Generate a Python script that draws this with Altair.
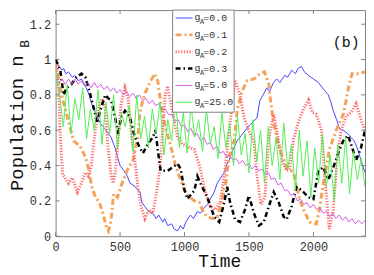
import altair as alt
import pandas as pd

FONT = "Liberation Mono"

series_names = ["gA=0.0", "gA=0.1", "gA=0.2", "gA=0.3", "gA=5.0", "gA=25.0"]
legend_labels = ["=0.0", "=0.1", "=0.2", "=0.3", "=5.0", "=25.0"]
x_ticks = [0, 500, 1000, 1500, 2000]
y_ticks = [0, 0.2, 0.4, 0.6, 0.8, 1.0, 1.2]

# gA = 0.0 (blue)
blue_pts = [(0, 1.00), (25, 0.96), (50, 0.94), (62, 0.95), (80, 0.92), (100, 0.93), (130, 0.90), (150, 0.91),
            (177, 0.88), (200, 0.89), (238, 0.84), (260, 0.80), (292, 0.72), (310, 0.70), (346, 0.64), (380, 0.61),
            (410, 0.58), (431, 0.56), (450, 0.52), (462, 0.50), (480, 0.45), (500, 0.40), (530, 0.37), (550, 0.35),
            (577, 0.30), (600, 0.29), (630, 0.27), (654, 0.25), (670, 0.19), (690, 0.17), (720, 0.14), (754, 0.13),
            (780, 0.10), (800, 0.12), (831, 0.08), (846, 0.10), (870, 0.06), (900, 0.07), (920, 0.04), (946, 0.03),
            (970, 0.06), (990, 0.04), (1010, 0.08), (1046, 0.12), (1070, 0.10), (1100, 0.14), (1123, 0.13),
            (1150, 0.16), (1180, 0.18), (1200, 0.21), (1230, 0.25), (1254, 0.30), (1280, 0.33), (1308, 0.36),
            (1330, 0.41), (1346, 0.43), (1370, 0.48), (1408, 0.54), (1440, 0.57), (1485, 0.61), (1520, 0.64),
            (1562, 0.67), (1585, 0.77), (1610, 0.80), (1638, 0.84), (1660, 0.82), (1690, 0.87), (1715, 0.89),
            (1740, 0.87), (1777, 0.91), (1800, 0.90), (1831, 0.94), (1860, 0.92), (1880, 0.95), (1908, 0.96),
            (1930, 0.93), (1962, 0.91), (2000, 0.89), (2038, 0.87), (2070, 0.84), (2115, 0.80), (2135, 0.76),
            (2154, 0.71), (2180, 0.66), (2200, 0.61), (2230, 0.60), (2269, 0.58), (2290, 0.56), (2315, 0.54),
            (2340, 0.50), (2369, 0.43), (2400, 0.36)]

# gA = 0.1 (orange)
orange_pts = [(0, 1.0), (30, 0.85), (60, 0.76), (100, 0.65), (140, 0.54), (190, 0.51), (230, 0.45), (260, 0.37),
              (280, 0.28), (310, 0.22), (340, 0.19), (370, 0.12), (395, 0.05), (410, 0.03), (430, 0.09),
              (450, 0.24), (480, 0.22), (520, 0.31), (560, 0.38), (600, 0.43), (638, 0.56), (654, 0.70),
              (677, 0.77), (700, 0.82), (738, 0.88), (769, 0.92), (792, 0.88), (815, 0.76), (850, 0.62),
              (890, 0.52), (930, 0.40), (970, 0.32), (1000, 0.26), (1040, 0.22), (1077, 0.20), (1115, 0.19),
              (1150, 0.13), (1177, 0.11), (1215, 0.10), (1254, 0.11), (1290, 0.20), (1320, 0.30), (1346, 0.45),
              (1385, 0.54), (1408, 0.71), (1446, 0.82), (1485, 0.88), (1538, 0.89), (1585, 0.92), (1620, 0.93),
              (1654, 0.86), (1670, 0.75), (1692, 0.64), (1715, 0.56), (1740, 0.49), (1792, 0.39), (1846, 0.36),
              (1870, 0.28), (1892, 0.21), (1923, 0.15), (1970, 0.08), (2023, 0.07), (2046, 0.15), (2077, 0.30),
              (2100, 0.39), (2123, 0.49), (2177, 0.60), (2231, 0.69), (2254, 0.77), (2277, 0.86), (2300, 0.92),
              (2350, 0.92), (2400, 0.93)]

# gA = 0.2 (red, dotted)
red_pts = [(0, 1.0), (23, 0.85), (38, 0.55), (54, 0.35), (100, 0.30), (131, 0.33), (169, 0.25), (200, 0.30),
           (231, 0.36), (254, 0.34), (277, 0.40), (300, 0.55), (331, 0.72), (362, 0.78), (385, 0.72),
           (408, 0.50), (431, 0.34), (446, 0.30), (462, 0.36), (485, 0.55), (508, 0.75), (538, 0.84),
           (562, 0.78), (592, 0.55), (615, 0.43), (638, 0.28), (662, 0.17), (692, 0.10), (723, 0.15),
           (754, 0.13), (777, 0.22), (808, 0.37), (831, 0.60), (850, 0.80), (869, 0.85), (892, 0.76),
           (923, 0.64), (946, 0.56), (985, 0.52), (1046, 0.50), (1077, 0.49), (1123, 0.38), (1160, 0.25),
           (1200, 0.17), (1240, 0.15), (1277, 0.19), (1310, 0.35), (1346, 0.60), (1392, 0.88), (1431, 0.80),
           (1462, 0.67), (1508, 0.58), (1538, 0.54), (1562, 0.35), (1592, 0.18), (1623, 0.22), (1654, 0.55),
           (1692, 0.69), (1715, 0.60), (1754, 0.43), (1792, 0.37), (1815, 0.38), (1846, 0.55), (1885, 0.65),
           (1923, 0.72), (1962, 0.77), (1992, 0.70), (2023, 0.69), (2062, 0.60), (2092, 0.30), (2123, 0.04),
           (2154, 0.15), (2185, 0.45), (2215, 0.60), (2254, 0.68), (2292, 0.70), (2331, 0.75), (2369, 0.66),
           (2400, 0.60)]

# gA = 0.3 (black, dash-dot)
black_pts = [(0, 1.0), (20, 0.97), (38, 0.93), (62, 0.80), (85, 0.84), (123, 0.86), (162, 0.90), (200, 0.92),
             (231, 0.90), (270, 0.80), (308, 0.69), (320, 0.64), (346, 0.71), (385, 0.80), (408, 0.78),
             (431, 0.77), (462, 0.67), (485, 0.58), (508, 0.67), (538, 0.71), (577, 0.67), (615, 0.56),
             (654, 0.50), (677, 0.47), (715, 0.52), (754, 0.56), (775, 0.60), (792, 0.49), (815, 0.37),
             (869, 0.37), (946, 0.41), (970, 0.38), (1000, 0.26), (1023, 0.21), (1077, 0.26), (1100, 0.34),
             (1123, 0.30), (1177, 0.22), (1200, 0.17), (1231, 0.11), (1269, 0.08), (1308, 0.19), (1331, 0.28),
             (1354, 0.19), (1392, 0.095), (1431, 0.08), (1469, 0.15), (1500, 0.23), (1538, 0.13), (1577, 0.06),
             (1615, 0.08), (1654, 0.17), (1692, 0.25), (1731, 0.19), (1769, 0.11), (1792, 0.095), (1831, 0.17),
             (1869, 0.28), (1908, 0.26), (1962, 0.22), (2000, 0.21), (2038, 0.37), (2077, 0.39), (2115, 0.32),
             (2154, 0.39), (2192, 0.47), (2231, 0.54), (2269, 0.57), (2292, 0.52), (2331, 0.43), (2369, 0.50),
             (2400, 0.60)]

# gA = 5.0 (magenta), sampled every 25 time units
magenta_t = list(range(0, 2401, 25))
magenta_v = [0.89, 0.87, 0.89, 0.86, 0.89, 0.86, 0.89, 0.86, 0.88, 0.85, 0.87, 0.84, 0.87, 0.84, 0.86, 0.83,
             0.85, 0.82, 0.84, 0.81, 0.83, 0.80, 0.82, 0.79, 0.81, 0.78, 0.80, 0.77, 0.78, 0.75, 0.77, 0.74,
             0.75, 0.72, 0.72, 0.69, 0.69, 0.65, 0.66, 0.62, 0.63, 0.59, 0.61, 0.57, 0.58, 0.54, 0.56, 0.52,
             0.53, 0.49, 0.51, 0.47, 0.48, 0.45, 0.46, 0.43, 0.44, 0.41, 0.43, 0.40, 0.41, 0.38, 0.40, 0.37,
             0.38, 0.35, 0.36, 0.32, 0.33, 0.29, 0.30, 0.26, 0.26, 0.23, 0.24, 0.20, 0.21, 0.18, 0.19, 0.16,
             0.18, 0.15, 0.16, 0.13, 0.14, 0.11, 0.13, 0.10, 0.12, 0.09, 0.11, 0.08, 0.10, 0.07, 0.09, 0.07,
             0.09]

# gA = 25.0 (green), sampled every 30 time units
green_t = list(range(0, 2401, 30))
green_v = [0.95, 0.80, 0.62, 0.86, 0.58, 0.78, 0.66, 0.84, 0.55, 0.72,
           0.60, 0.83, 0.52, 0.76, 0.58, 0.80, 0.50, 0.70, 0.62, 0.74,
           0.48, 0.80, 0.55, 0.68, 0.50, 0.72, 0.58, 0.76, 0.46, 0.66,
           0.54, 0.78, 0.50, 0.70, 0.47, 0.74, 0.56, 0.66, 0.48, 0.72,
           0.52, 0.62, 0.44, 0.70, 0.50, 0.64, 0.40, 0.68, 0.46, 0.58,
           0.36, 0.66, 0.42, 0.60, 0.30, 0.62, 0.40, 0.56, 0.32, 0.64,
           0.38, 0.52, 0.26, 0.60, 0.34, 0.54, 0.22, 0.50, 0.30, 0.58,
           0.28, 0.46, 0.20, 0.52, 0.30, 0.56, 0.24, 0.48, 0.32, 0.44,
           0.28]

all_pts = [
    blue_pts,
    orange_pts,
    red_pts,
    black_pts,
    list(zip(magenta_t, magenta_v)),
    list(zip(green_t, green_v)),
]

styles = [
    dict(color="#4646ff", strokeWidth=1.0),
    dict(color="#f5a258", strokeWidth=3.0, strokeDash=[6, 3, 2, 3]),
    dict(color="#ff6a6a", strokeWidth=3.0, strokeDash=[1.2, 1.6]),
    dict(color="#000000", strokeWidth=2.5, strokeDash=[5, 3, 1.5, 3]),
    dict(color="#d060e0", strokeWidth=1.0),
    dict(color="#55ee55", strokeWidth=1.0),
]

W, H = 312, 228
x_scale = alt.Scale(domain=[0, 2400], nice=False, zero=False)
y_scale = alt.Scale(domain=[0, 1.28], nice=False, zero=False)
x_axis = alt.Axis(values=x_ticks, format="d", title="Time", titleFont=FONT, titleFontSize=18,
                  titleFontWeight="normal", titleColor="#111111", titleX=165, titlePadding=1,
                  labelFont=FONT, labelFontSize=12, labelColor="#333333", labelPadding=5, labelFlush=False,
                  ticks=False, domain=False, grid=False)
y_axis = alt.Axis(values=y_ticks, format="~g", title=None, labelFont=FONT, labelFontSize=12,
                  labelColor="#333333", labelPadding=5, labelFlush=False, ticks=False, domain=False, grid=False)

layers = []
for name, pts, st in zip(series_names, all_pts, styles):
    df = pd.DataFrame(pts, columns=["t", "v"])
    df["series"] = name
    layers.append(
        alt.Chart(df).mark_line(clip=True, **st).encode(
            x=alt.X("t:Q", scale=x_scale, axis=x_axis),
            y=alt.Y("v:Q", scale=y_scale, axis=y_axis),
        )
    )

# inward tick marks on all four sides of the frame
xt = pd.DataFrame({"t": x_ticks})
yt = pd.DataFrame({"v": y_ticks})
tick_style = dict(color="#808080", strokeWidth=1)
for y0, y1 in [(H, H - 4), (0, 4)]:
    layers.append(alt.Chart(xt).mark_rule(**tick_style).encode(
        x=alt.X("t:Q", scale=x_scale, axis=x_axis), y=alt.value(y0), y2=alt.value(y1)))
for x0, x1 in [(0, 4), (W, W - 4)]:
    layers.append(alt.Chart(yt).mark_rule(**tick_style).encode(
        y=alt.Y("v:Q", scale=y_scale, axis=y_axis), x=alt.value(x0), x2=alt.value(x1)))

one = pd.DataFrame({"k": [0]})

# legend box
layers.append(
    alt.Chart(one).mark_rect(fill="white", stroke="#808080", strokeWidth=1).encode(
        x=alt.value(118), x2=alt.value(180), y=alt.value(0), y2=alt.value(103)
    )
)
row_y = [8, 25, 42, 59, 76, 93]
for ry, lab, st in zip(row_y, legend_labels, styles):
    layers.append(alt.Chart(one).mark_rule(**st).encode(x=alt.value(121), x2=alt.value(138), y=alt.value(ry)))
    layers.append(alt.Chart(one).mark_text(text="g", font=FONT, fontSize=10, align="left", baseline="middle",
                                           color="#333333").encode(x=alt.value(140), y=alt.value(ry - 1)))
    layers.append(alt.Chart(one).mark_text(text="A", font=FONT, fontSize=7, align="left", baseline="middle",
                                           color="#333333").encode(x=alt.value(145.5), y=alt.value(ry + 4)))
    layers.append(alt.Chart(one).mark_text(text=lab, font=FONT, fontSize=10, align="left", baseline="middle",
                                           color="#333333").encode(x=alt.value(149), y=alt.value(ry)))

# panel label
layers.append(alt.Chart(one).mark_text(text="(b)", font=FONT, fontSize=15, align="center", baseline="middle",
                                       color="#111111").encode(x=alt.value(293), y=alt.value(32)))
# y title with subscript
layers.append(alt.Chart(one).mark_text(text="Population n", font=FONT, fontSize=19, angle=270, align="center",
                                       baseline="middle", color="#111111").encode(x=alt.value(-39), y=alt.value(114)))
layers.append(alt.Chart(one).mark_text(text="B", font=FONT, fontSize=13, angle=270, align="center",
                                       baseline="middle", color="#111111").encode(x=alt.value(-31), y=alt.value(34)))

chart = alt.layer(*layers).properties(
    width=W, height=H, padding={"left": 0, "top": 0, "right": 0, "bottom": 0}
).configure_view(stroke="#808080", strokeWidth=1)

chart.save("out.html", embed_options={"renderer": "svg", "actions": False})
